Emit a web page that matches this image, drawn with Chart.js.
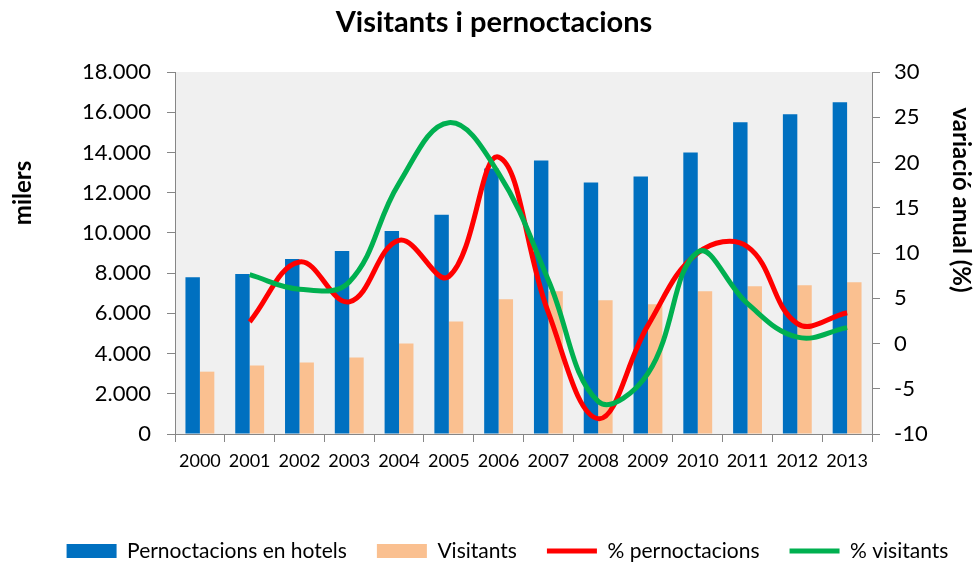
<!DOCTYPE html>
<html>
<head>
<meta charset="utf-8">
<title>Visitants i pernoctacions</title>
<script src="https://cdn.jsdelivr.net/npm/chart.js@4.4.1/dist/chart.umd.min.js"></script>
<style>
  html, body { margin: 0; padding: 0; background: #fff; }
  #wrap { width: 975px; height: 563px; }
</style>
</head>
<body>
<div id="wrap"><canvas id="myChart"></canvas></div>
<script>
// Dades llegides del gràfic
const anys = ['2000', '2001', '2002', '2003', '2004', '2005', '2006', '2007', '2008', '2009', '2010', '2011', '2012', '2013'];
const pernoctacions = [7800, 7950, 8700, 9100, 10100, 10900, 13200, 13600, 12500, 12800, 14000, 15500, 15900, 16500];
const visitants = [3100, 3400, 3550, 3800, 4500, 5600, 6700, 7100, 6650, 6450, 7100, 7350, 7400, 7550];
const pctPernoctacions = [null, 2.4, 9.0, 4.6, 11.4, 7.4, 20.6, 3.4, -8.3, 2.0, 10.0, 10.7, 2.2, 3.4];
const pctVisitants = [null, 7.6, 6.0, 6.8, 17.7, 24.4, 18.8, 7.0, -6.4, -3.3, 10.1, 4.4, 0.7, 1.75];

const FONT = 'Lato';
const GRIS = '#868686';

// format 18.000
function milers(v) {
  return String(v).replace(/\B(?=(\d{3})+(?!\d))/g, '.');
}

// fons gris de l'àrea, títols i llegenda una mica desplaçada a la dreta
const titols = {
  id: 'titols',
  afterLayout(chart) {
    chart.legend.left += 20;
    chart.legend.right += 20;
  },
  beforeDraw(chart) {
    const {ctx, chartArea: a} = chart;
    ctx.save();
    ctx.fillStyle = '#F0F0F0';
    ctx.fillRect(a.left, a.top, a.right - a.left, a.bottom - a.top);
    ctx.restore();
  },
  afterDraw(chart) {
    const ctx = chart.ctx;
    ctx.save();
    ctx.fillStyle = '#000';
    ctx.textAlign = 'center';
    ctx.textBaseline = 'middle';
    ctx.font = 'bold 29px ' + FONT;
    ctx.fillText('Visitants i pernoctacions', 494, 23);

    ctx.font = 'bold 24px ' + FONT;
    ctx.translate(23, 193);
    ctx.rotate(-Math.PI / 2);
    ctx.fillText('milers', 0, 0);
    ctx.restore();

    ctx.save();
    ctx.fillStyle = '#000';
    ctx.textAlign = 'center';
    ctx.textBaseline = 'middle';
    ctx.font = 'bold 24px ' + FONT;
    ctx.translate(961, 200);
    ctx.rotate(Math.PI / 2);
    ctx.fillText('variació anual (%)', 0, 0);
    ctx.restore();
  }
};

const ctx = document.getElementById('myChart').getContext('2d');

const myChart = new Chart(ctx, {
  type: 'bar',
  data: {
    labels: anys,
    datasets: [
      {
        label: 'Pernoctacions en hotels',
        data: pernoctacions,
        backgroundColor: '#0070C0',
        borderColor: '#0070C0',
        yAxisID: 'y',
        order: 2,
        categoryPercentage: 0.58,
        barPercentage: 1.0
      },
      {
        label: 'Visitants',
        data: visitants,
        backgroundColor: '#FAC090',
        borderColor: '#FAC090',
        yAxisID: 'y',
        order: 2,
        categoryPercentage: 0.58,
        barPercentage: 1.0
      },
      {
        type: 'line',
        label: '% pernoctacions',
        data: pctPernoctacions,
        borderColor: '#FF0000',
        backgroundColor: '#FF0000',
        borderWidth: 5,
        pointRadius: 0,
        tension: 0.4,
        yAxisID: 'y2',
        order: 1
      },
      {
        type: 'line',
        label: '% visitants',
        data: pctVisitants,
        borderColor: '#00B050',
        backgroundColor: '#00B050',
        borderWidth: 5,
        pointRadius: 0,
        tension: 0.4,
        yAxisID: 'y2',
        order: 0
      }
    ]
  },
  options: {
    responsive: true,
    maintainAspectRatio: false,
    animation: false,
    layout: { padding: { top: 72, left: 0, right: 0, bottom: -8.5 } },
    plugins: {
      title: { display: false },
      tooltip: { enabled: false },
      legend: {
        position: 'bottom',
        labels: {
          usePointStyle: true,
          pointStyleWidth: 50,
          boxHeight: 14,
          padding: 30,
          color: '#000',
          font: { family: FONT, size: 21 },
          generateLabels: (chart) => chart.data.datasets.map((ds, i) => ({
            text: ds.label,
            fillStyle: ds.backgroundColor,
            strokeStyle: ds.borderColor,
            lineWidth: ds.type === 'line' ? 5 : 0,
            pointStyle: ds.type === 'line' ? 'line' : 'rect',
            fontColor: '#000',
            hidden: false,
            datasetIndex: i
          }))
        }
      }
    },
    scales: {
      x: {
        grid: { display: true, drawOnChartArea: false, drawTicks: true, tickLength: 8, color: GRIS, offset: true },
        border: { color: GRIS },
        ticks: { color: '#000', font: { family: FONT, size: 18 }, padding: 8, maxRotation: 0 },
        afterFit: (s) => { s.height = 76.5; }
      },
      y: {
        position: 'left',
        min: 0,
        max: 18000,
        ticks: { stepSize: 2000, color: '#000', font: { family: FONT, size: 22 }, padding: 16, callback: (v) => milers(v) },
        grid: { drawOnChartArea: false, drawTicks: true, tickLength: 8, color: GRIS },
        border: { color: GRIS },
        afterFit: (s) => { s.width = 175; }
      },
      y2: {
        position: 'right',
        min: -10,
        max: 30,
        ticks: { stepSize: 5, color: '#000', font: { family: FONT, size: 22 }, padding: 14 },
        grid: { drawOnChartArea: false, drawTicks: true, tickLength: 8, color: GRIS },
        border: { color: GRIS },
        afterFit: (s) => { s.width = 103; }
      }
    }
  },
  plugins: [titols]
});
</script>
</body>
</html>
